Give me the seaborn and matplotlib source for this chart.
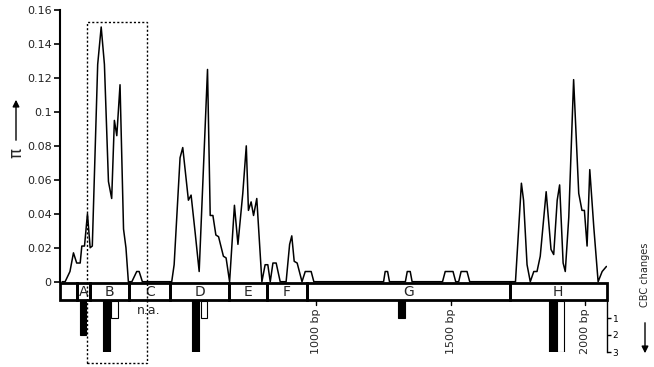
import numpy as np
import pandas as pd
import matplotlib
matplotlib.use("Agg")
import matplotlib.pyplot as plt
import seaborn as sns
from matplotlib.patches import Rectangle, FancyArrowPatch

sns.set_theme(style="white")
plt.rcParams['font.family'] = ['DejaVu Sans']

# ---------------- data ----------------
pos_bp = [56, 67, 85, 98, 110, 123, 129, 139, 150, 160, 168, 188, 201, 213, 228, 240, 250, 259, 271,
          284, 293, 302, 315, 333, 342, 354,
          463, 472, 494, 504, 525, 535, 550, 565, 596, 606, 616, 627, 637, 655, 665, 678,
          696, 709, 727, 740, 748, 758, 767, 779, 798,
          810, 820, 829, 839, 851, 866, 888, 901, 909, 918, 929, 947, 959, 981, 991,
          1250, 1256, 1265, 1272, 1331, 1338, 1349, 1356,
          1469, 1479, 1508, 1518, 1529, 1538, 1560, 1570,
          1740, 1762, 1770, 1783, 1795, 1808, 1820, 1832, 1854, 1872, 1882, 1895, 1904,
          1917, 1925, 1938, 1956, 1975, 1987, 1996, 2006, 2016, 2031, 2047, 2062, 2078]
pi_vals = [0, 0, 0.006, 0.017, 0.011, 0.011, 0.021, 0.021, 0.040, 0.020, 0.021, 0.128, 0.150, 0.128,
           0.059, 0.049, 0.095, 0.086, 0.116, 0.031, 0.020, 0, 0, 0.006, 0.006, 0,
           0, 0.010, 0.073, 0.079, 0.048, 0.051, 0.029, 0.006, 0.125, 0.039, 0.039, 0.0275, 0.0265,
           0.015, 0.014, 0,
           0.045, 0.022, 0.052, 0.080, 0.042, 0.047, 0.039, 0.049, 0,
           0.010, 0.010, 0, 0.011, 0.011, 0, 0, 0.022, 0.027, 0.012, 0.011, 0, 0.006, 0.006, 0,
           0, 0.006, 0.006, 0, 0, 0.006, 0.006, 0,
           0, 0.006, 0.006, 0, 0, 0.006, 0.006, 0,
           0, 0.058, 0.048, 0.010, 0, 0.006, 0.006, 0.015, 0.053, 0.019, 0.016, 0.048, 0.057,
           0.011, 0.006, 0.038, 0.119, 0.052, 0.042, 0.042, 0.021, 0.066, 0.032, 0, 0.006, 0.009]

region_labels = ['', 'A', 'B', 'C', 'D', 'E', 'F', 'G', 'H']
region_start = [48, 111, 158, 305, 458, 677, 816, 967, 1718]
region_end = [111, 158, 305, 458, 677, 816, 967, 1718, 2079]

cbc_pos = [134, 221, 251, 551, 583, 1316, 1876, 1890, 1908]
cbc_changes = [2, 3, 1, 3, 1, 1, 3, 3, 3]
cbc_filled = [True, True, False, True, False, True, True, True, False]

bp_ticks = [1000, 1500, 2000]
pi_ticks = [0, 0.02, 0.04, 0.06, 0.08, 0.1, 0.12, 0.14, 0.16]
pi_ticklabels = ['0', '0.02', '0.04', '0.06', '0.08', '0.1', '0.12', '0.14', '0.16']
cbc_ticks = [1, 2, 3]

# ---------------- layout ----------------
W, H = 654, 367
Y0, PX = 281.7, 1698.0


def py(y):
    return (Y0 - y) / PX


fig = plt.figure(figsize=(W / 100, H / 100), dpi=100)
ax = fig.add_axes([60 / W, 0, 547 / W, 1])
ax.set_xlim(48, 2080)
ax.set_ylim(py(H), py(0))
ax.patch.set_alpha(0)

df = pd.DataFrame({'bp': pos_bp, 'pi': pi_vals})
sns.lineplot(data=df, x='bp', y='pi', ax=ax, color='black', lw=1.1, estimator=None, sort=False)
ax.set_xlabel('')
ax.set_ylabel('')

for s in ['top', 'right', 'bottom']:
    ax.spines[s].set_visible(False)
ax.spines['left'].set_bounds(0, 0.16)
ax.spines['left'].set_linewidth(1.5)
ax.spines['left'].set_color('black')
ax.set_xticks([])
ax.set_yticks(pi_ticks, pi_ticklabels)
ax.tick_params(axis='y', direction='out', length=4, width=1.2, labelsize=8, pad=2, left=True,
               colors='black', labelcolor='#222222')

# region boxes
for lab, s, e in zip(region_labels, region_start, region_end):
    ax.add_patch(Rectangle((s, py(300)), e - s, py(283) - py(300), fill=False, lw=2,
                           ec='black', clip_on=False, zorder=3))
    if lab:
        ax.text((s + e) / 2, py(291.5), lab, ha='center', va='center', fontsize=10, zorder=4)
ax.text(378, py(311), 'n.a.', ha='center', va='center', fontsize=9)

# bp ticks
for b in bp_ticks:
    ax.plot([b, b], [py(300), py(305)], color='black', lw=1, clip_on=False)
    ax.text(b, py(308), f'{b} bp', rotation=90, ha='center', va='top', fontsize=8)

# dotted box
ax.add_patch(Rectangle((147, py(363)), 370 - 147, py(21.7) - py(363), fill=False, lw=1,
                       ls=(0, (1.5, 1.5)), ec='black', clip_on=False, zorder=5))

# CBC axes
cax = fig.add_axes([60 / W, (H - 352) / H, 547 / W, (352 - 301) / H])
cax.set_xlim(48, 2080)
cax.set_ylim(3, 0)
cax.patch.set_alpha(0)
for i, (p, h, f) in enumerate(zip(cbc_pos, cbc_changes, cbc_filled)):
    cax.bar(p, h, width=24, bottom=0, color='black' if f else 'white', edgecolor='black', lw=0.8,
            zorder=2 + i * 0.01)
for s in ['top', 'left', 'bottom']:
    cax.spines[s].set_visible(False)
cax.spines['right'].set_color('black')
cax.spines['right'].set_linewidth(1)
cax.set_xticks([])
cax.yaxis.tick_right()
cax.set_yticks(cbc_ticks, [str(t) for t in cbc_ticks])
cax.tick_params(axis='y', direction='out', length=3, width=1, labelsize=6.5, pad=1, right=True,
                colors='black')

# labels
fig.text(16 / W, 1 - 153 / H, 'π', rotation=90, fontsize=12, ha='center', va='center')
fig.add_artist(FancyArrowPatch((16 / W, 1 - 143 / H), (16 / W, 1 - 97 / H),
               transform=fig.transFigure, arrowstyle='-|>', mutation_scale=10, color='black', lw=1))
fig.text(645 / W, 1 - 275 / H, 'CBC changes', rotation=90, fontsize=7, ha='center', va='center')
fig.add_artist(FancyArrowPatch((645 / W, 1 - 320 / H), (645 / W, 1 - 356 / H),
               transform=fig.transFigure, arrowstyle='-|>', mutation_scale=10, color='black', lw=1))

fig.savefig('out.png', dpi=100)
